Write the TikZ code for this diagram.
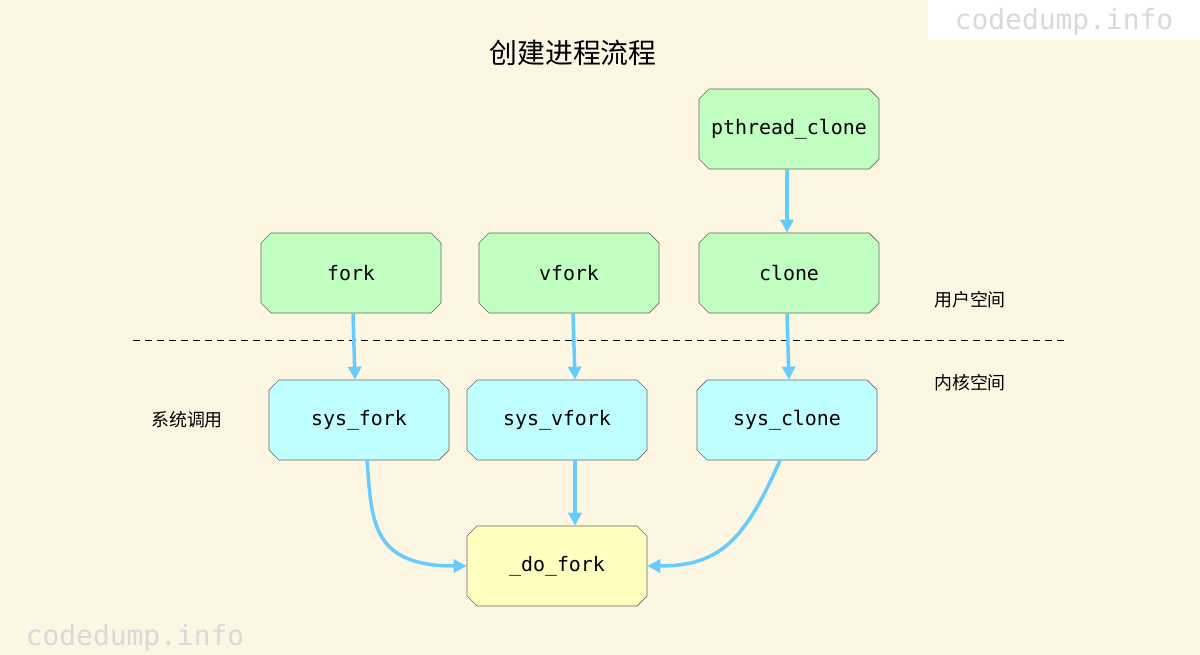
\documentclass[tikz,border=0pt]{standalone}
\usepackage{fontspec}
\setmonofont{DejaVu Sans Mono}
\newfontfamily\cjk{Noto Sans CJK SC}
\usetikzlibrary{shapes.misc,arrows.meta}
\definecolor{bg}{RGB}{253,246,227}
\definecolor{gfill}{RGB}{192,255,192}
\definecolor{cfill}{RGB}{192,255,255}
\definecolor{yfill}{RGB}{255,255,192}
\definecolor{arr}{RGB}{102,204,255}
\tikzset{
 box/.style={chamfered rectangle,chamfered rectangle xsep=5bp,chamfered rectangle ysep=5bp,draw=black!60,line width=0.7pt,minimum width=180bp,minimum height=80bp,inner sep=0pt,font=\ttfamily\fontsize{20}{24}\selectfont},
 ubox/.style={box,fill=gfill},
 kbox/.style={box,fill=cfill},
 dbox/.style={box,fill=yfill},
 link/.style={draw=arr,line width=3.5bp,-{Triangle[length=13bp,width=13bp]}},
 lab/.style={font=\cjk\fontsize{18}{22}\selectfont},
 wm/.style={font=\ttfamily\fontsize{28}{30}\selectfont,text=black!15}
}
\begin{document}
\begin{tikzpicture}[x=1bp,y=-1bp]
\fill[bg] (0,0) rectangle (1200,655);
\useasboundingbox (0,0) rectangle (1200,655);
\fill[white] (928,0) rectangle (1200,40);
\node[wm] (wm1) at (1064,22) {codedump.info};
\node[wm] (wm2) at (135,638) {codedump.info};
\node[font=\cjk\fontsize{28}{32}\selectfont] (title) at (573,53) {创建进程流程};
\node[ubox] (pc) at (789,129) {pthread\_clone};
\node[ubox] (fork) at (351,273) {fork};
\node[ubox] (vfork) at (569,273) {vfork};
\node[ubox] (clone) at (789,273) {clone};
\node[kbox] (sfork) at (359,420) {sys\_fork};
\node[kbox] (svfork) at (557,420) {sys\_vfork};
\node[kbox] (sclone) at (787,420) {sys\_clone};
\node[dbox] (dofork) at (557,566) {\_do\_fork};
\coordinate (dl) at (133,340);
\coordinate (dr) at (1065,340);
\draw[dashed,dash pattern=on 7bp off 5bp,line width=0.8pt] (dl) -- (dr);
\node[lab] (user) at (970,300) {用户空间};
\node[lab] (kern) at (970,383) {内核空间};
\node[lab] (sys) at (187,420) {系统调用};
\draw[link] ([xshift=-2bp]pc.south) -- ([xshift=-2bp]clone.north);
\draw[link] ([xshift=2bp]fork.south) -- ([xshift=-4bp]sfork.north);
\draw[link] ([xshift=4bp]vfork.south) -- ([xshift=18bp]svfork.north);
\draw[link] ([xshift=-2bp]clone.south) -- ([xshift=2bp]sclone.north);
\draw[link] ([xshift=18bp]svfork.south) -- ([xshift=18bp]dofork.north);
\draw[link] ([xshift=8bp]sfork.south) .. controls (372,520) and (370,566) .. (dofork.west);
\draw[link] ([xshift=-7bp]sclone.south) .. controls (745,540) and (720,566) .. (dofork.east);
\end{tikzpicture}
\end{document}
